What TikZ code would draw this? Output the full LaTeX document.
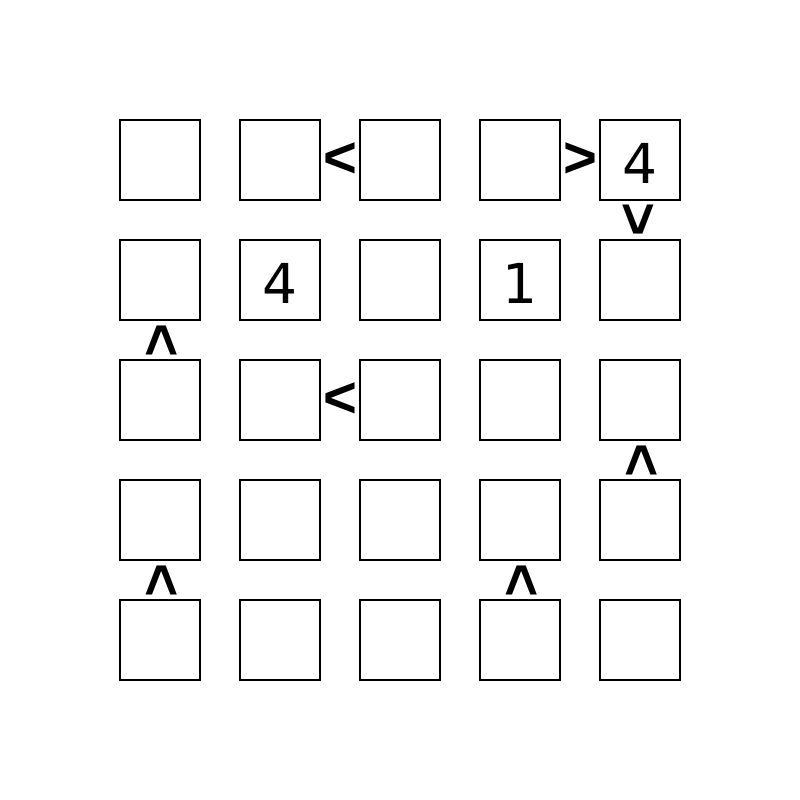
\documentclass[tikz,border=0pt]{standalone}
\usepackage{fontspec}
\usetikzlibrary{calc}
\newfontfamily\dejavu{DejaVu Sans}
\newfontfamily\libsansb{Liberation Sans Bold}
\begin{document}
\begin{tikzpicture}[x=1pt,y=-1pt,
  cell/.style={draw=black,line width=2pt,minimum size=80pt,inner sep=0pt,outer sep=0pt},
  digit/.style={font=\dejavu\fontsize{55}{55}\selectfont,inner sep=0pt,anchor=base},
  ineq/.style={font=\libsansb\fontsize{58}{58}\selectfont,inner sep=0pt}]
\useasboundingbox[fill=white] (0,0) rectangle (800,800);
\foreach \r in {1,...,5}{
  \foreach \c in {1,...,5}{
    \node[cell] (c\r\c) at ({40+120*\c},{40+120*\r}) {};
  }
}
\node[digit] (d15) at ([yshift=-23pt]c15.center) {4};
\node[digit] (d22) at ([yshift=-23pt]c22.center) {4};
\node[digit] (d24) at ([yshift=-23pt]c24.center) {1};
% horizontal
\node[ineq] (i1) at ($(c12.east)!0.5!(c13.west)$) {<};
\node[ineq] (i2) at ($(c14.east)!0.5!(c15.west)$) {>};
\node[ineq] (i3) at ($(c32.east)!0.5!(c33.west)$) {<};
% vertical
\node[ineq,rotate=90] (i4) at ($(c15.south)!0.5!(c25.north)$) {<};
\node[ineq,rotate=-90] (i5) at ($(c21.south)!0.5!(c31.north)$) {<};
\node[ineq,rotate=-90] (i6) at ($(c35.south)!0.5!(c45.north)$) {<};
\node[ineq,rotate=-90] (i7) at ($(c41.south)!0.5!(c51.north)$) {<};
\node[ineq,rotate=-90] (i8) at ($(c44.south)!0.5!(c54.north)$) {<};
\end{tikzpicture}
\end{document}
